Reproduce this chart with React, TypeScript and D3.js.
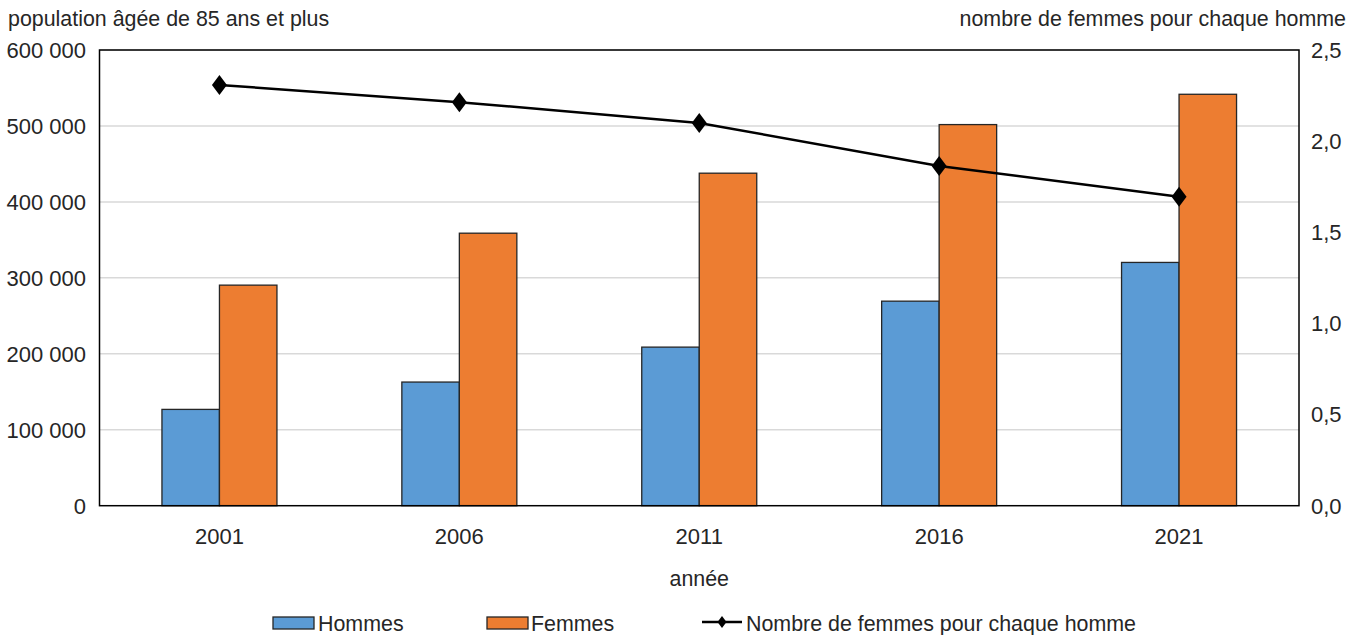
import React from "react";
import * as d3 from "d3";

const years = ["2001", "2006", "2011", "2016", "2021"];
const hommes = [126800, 162800, 208800, 269300, 320300];
const femmes = [290400, 358800, 437800, 501800, 541700];
const ratio = [2.308, 2.214, 2.1, 1.864, 1.695];
const leftTicks = [0, 100000, 200000, 300000, 400000, 500000, 600000];
const rightTicks = [0, 0.5, 1, 1.5, 2, 2.5];

const FONT = "'Liberation Sans', Arial, sans-serif";
const BLUE = "#5B9BD5";
const ORANGE = "#ED7D31";
const TXT = "#262626";

export default function App() {
  const W = 1357, H = 635;
  const left = 99.5, right = 1299, top = 50, bottom = 505.7;
  const x = d3.scaleBand<string>().domain(years).range([left, right]).padding(0);
  const yL = d3.scaleLinear().domain([0, 600000]).range([bottom, top]);
  const yR = d3.scaleLinear().domain([0, 2.5]).range([bottom, top]);
  const barW = 57.5;
  const fmtL = (v: number) => d3.format(",")(v).replace(/,/g, " ");
  const fmtR = (v: number) => v.toFixed(1).replace(".", ",");
  const cx = (y: string) => (x(y) as number) + x.bandwidth() / 2;
  const line = d3.line<number>().x((_, i) => cx(years[i])).y((d) => yR(d));
  const diamond = (px: number, py: number, w: number, h: number) =>
    `M${px},${py - h / 2}L${px + w / 2},${py}L${px},${py + h / 2}L${px - w / 2},${py}Z`;
  const FS = 21.4;

  return (
    <svg width={W} height={H} style={{ position: "absolute", left: 0, top: 0, background: "#fff" }} fontFamily={FONT}>
      <rect x={0} y={0} width={W} height={H} fill="#fff" />
      {leftTicks.slice(1).map((t) => (
        <line key={t} x1={left} x2={right} y1={yL(t)} y2={yL(t)} stroke="#D9D9D9" strokeWidth={1.5} />
      ))}
      {years.map((y, i) => (
        <g key={y}>
          <rect x={cx(y) - barW} y={yL(hommes[i])} width={barW} height={bottom - yL(hommes[i])} fill={BLUE} stroke="#262626" strokeWidth={1.3} />
          <rect x={cx(y)} y={yL(femmes[i])} width={barW} height={bottom - yL(femmes[i])} fill={ORANGE} stroke="#262626" strokeWidth={1.3} />
        </g>
      ))}
      <rect x={left} y={top} width={right - left} height={bottom - top} fill="none" stroke="#000" strokeWidth={1.5} />
      <path d={line(ratio) || ""} fill="none" stroke="#000" strokeWidth={2.5} />
      {ratio.map((r, i) => (
        <path key={i} d={diamond(cx(years[i]), yR(r), 15, 20)} fill="#000" />
      ))}
      {leftTicks.map((t) => (
        <text key={t} x={86} y={yL(t)} dy="0.36em" textAnchor="end" fontSize={22} fill={TXT}>{fmtL(t)}</text>
      ))}
      {rightTicks.map((t) => (
        <text key={t} x={1311} y={yR(t)} dy="0.36em" textAnchor="start" fontSize={22} fill={TXT}>{fmtR(t)}</text>
      ))}
      {years.map((y) => (
        <text key={y} x={cx(y)} y={536} dy="0.36em" textAnchor="middle" fontSize={22} fill={TXT}>{y}</text>
      ))}
      <text x={(left + right) / 2} y={578} dy="0.36em" textAnchor="middle" fontSize={FS} fill={TXT}>année</text>
      <text x={8} y={26} fontSize={FS} fill={TXT}>population âgée de 85 ans et plus</text>
      <text x={1346} y={26} textAnchor="end" fontSize={FS} fill={TXT}>nombre de femmes pour chaque homme</text>
      <g>
        <rect x={273} y={617} width={41} height={12} fill={BLUE} stroke="#262626" strokeWidth={1.3} />
        <text x={318} y={623} dy="0.36em" fontSize={FS} fill={TXT}>Hommes</text>
        <rect x={487} y={617} width={41} height={12} fill={ORANGE} stroke="#262626" strokeWidth={1.3} />
        <text x={531} y={623} dy="0.36em" fontSize={FS} fill={TXT}>Femmes</text>
        <line x1={702} x2={742} y1={622} y2={622} stroke="#000" strokeWidth={2.5} />
        <path d={diamond(722, 622, 9, 12)} fill="#000" />
        <text x={746} y={623} dy="0.36em" fontSize={FS} fill={TXT}>Nombre de femmes pour chaque homme</text>
      </g>
    </svg>
  );
}
